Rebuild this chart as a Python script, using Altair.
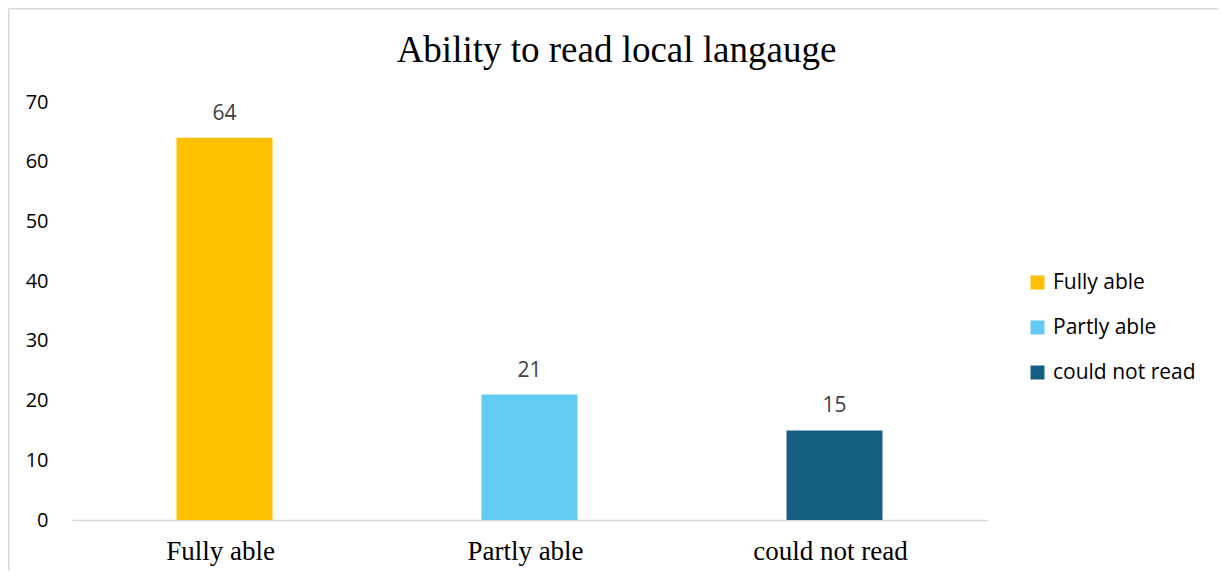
import altair as alt
import pandas as pd

categories = ["Fully able", "Partly able", "could not read"]
values = [64, 21, 15]
colors = ["#FFC000", "#61CBF4", "#156082"]
y_ticks = [0, 10, 20, 30, 40, 50, 60, 70]

df = pd.DataFrame({"category": categories, "value": values})

W, H = 915, 418
PAD = {"left": 64, "top": 94, "right": 231, "bottom": 51}
SANS = "Open Sans"

x = alt.X(
    "category:N",
    sort=categories,
    scale=alt.Scale(paddingInner=0, paddingOuter=0),
    axis=alt.Axis(
        title=None, labelAngle=0, labelFont="Liberation Serif", labelFontSize=27,
        labelColor="#000000", labelPadding=18, domainColor="#D9D9D9",
        domainWidth=1.5, ticks=False, labelOffset=-4,
    ),
)
y = alt.Y(
    "value:Q",
    scale=alt.Scale(domain=[0, 70]),
    axis=alt.Axis(
        title=None, values=y_ticks, grid=False, domain=False, ticks=False,
        labelFont=SANS, labelFontSize=20, labelColor="#000000", labelPadding=24,
    ),
)

base = alt.Chart(df)

bars = base.mark_bar(size=96).encode(
    x=x,
    y=y,
    color=alt.Color(
        "category:N",
        sort=categories,
        scale=alt.Scale(domain=categories, range=colors),
        legend=alt.Legend(
            title=None, orient="none", legendX=955, legendY=170,
            symbolType="square", symbolSize=196, symbolStrokeWidth=0,
            labelFont=SANS, labelFontSize=21, labelColor="#000000",
            rowPadding=23, labelOffset=5,
        ),
    ),
)

text = base.mark_text(
    dy=-18, baseline="alphabetic", font=SANS, fontSize=21, color="#404040"
).encode(x=alt.X("category:N", sort=categories), y="value:Q", text="value:Q")

border_df = pd.DataFrame({"a": [0]})
left_border = alt.Chart(border_df).mark_rule(color="#D9D9D9", strokeWidth=1.5).encode(
    x=alt.value(-PAD["left"] + 0.75),
    y=alt.value(-PAD["top"] + 0.75),
    y2=alt.value(H + PAD["bottom"]),
)
top_border = alt.Chart(border_df).mark_rule(color="#D9D9D9", strokeWidth=1.5).encode(
    x=alt.value(-PAD["left"] + 0.75),
    x2=alt.value(W + PAD["right"]),
    y=alt.value(-PAD["top"] + 0.75),
)

chart = alt.layer(bars, text, left_border, top_border).properties(
    width=W,
    height=H,
    padding=PAD,
    autosize=alt.AutoSizeParams(type="none"),
    title=alt.TitleParams(
        "Ability to read local langauge", font="Liberation Serif", fontSize=37,
        fontWeight="normal", color="#000000", anchor="middle", dx=87,
        offset=-62,
    ),
).configure_view(stroke=None)

chart.save("out.html", embed_options={"renderer": "svg", "actions": False})
